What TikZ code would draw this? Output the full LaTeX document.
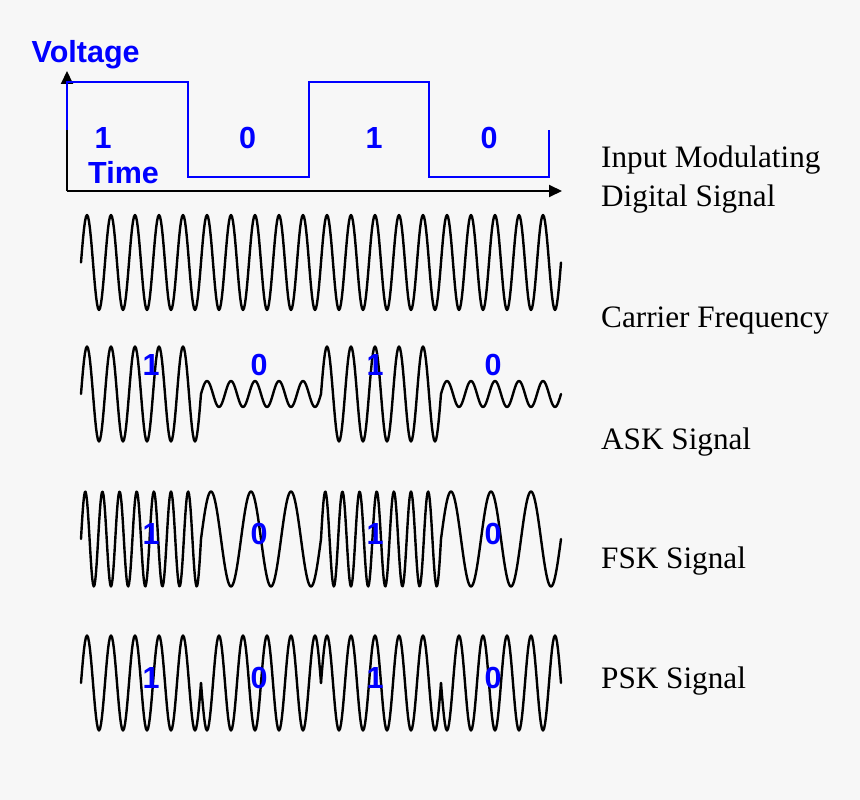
\documentclass[tikz,border=0pt]{standalone}
\usepackage{fontspec}
\setmainfont{Liberation Serif}
\setsansfont{Liberation Sans}
\usepackage{tikz}
\usetikzlibrary{arrows.meta}

\definecolor{paper}{RGB}{247,247,247}
\definecolor{bitblue}{RGB}{0,0,255}
\newcommand{\bitfont}{\fontsize{30.5}{36}\selectfont\sffamily\bfseries}
\newcommand{\capfont}{\fontsize{31.2}{39.4}\selectfont\rmfamily}

\begin{document}
\begin{tikzpicture}[x=1pt, y=-1pt, wave/.style={line width=2.4pt, line join=round, line cap=round}, level/.style={line width=2pt, bitblue}, axis/.style={line width=2pt, -{Triangle[length=13pt, width=12pt]}}, bit/.style={font=\bitfont, text=bitblue, anchor=base, inner sep=0pt}, caption/.style={font=\capfont, anchor=base west, inner sep=0pt, align=left}]
\fill [paper] (0,0) rectangle (860,800);
\useasboundingbox (0,0) rectangle (860,800);
% input digital signal
\coordinate (origin) at (67,191);
\coordinate (vtop) at (67,71);
\coordinate (tend) at (562,191);
\draw [axis] (origin) -- (vtop);
\draw [axis] (origin) -- (tend);
\draw [level] (67,130) -- (67,82) -- (188,82) -- (188,177) -- (308.5,177) -- (308.5,82) -- (429,82) -- (429,177) -- (548.5,177) -- (548.5,130);
\node [bit, anchor=base west] (voltage) at (31.5,63) {Voltage};
\node [bit, anchor=base west] (time) at (88,183) {Time};
\node [bit] (in1) at (103,148) {1};
\node [bit] (in2) at (247.5,148) {0};
\node [bit] (in3) at (374,148) {1};
\node [bit] (in4) at (489,148) {0};
% carrier
\draw [wave] plot [domain=81:561, samples=481] (\x, {262.5-47.5*sin(15*(\x-81))});
% ASK
\draw [wave] plot [domain=81:201, samples=121] (\x, {394-47.5*sin(15*(\x-81))});
\draw [wave] plot [domain=201:321, samples=121] (\x, {394-13*sin(15*(\x-201))});
\draw [wave] plot [domain=321:441, samples=121] (\x, {394-47.5*sin(15*(\x-321))});
\draw [wave] plot [domain=441:561, samples=121] (\x, {394-13*sin(15*(\x-441))});
% FSK
\draw [wave] plot [domain=81:201, samples=161] (\x, {539-47.5*sin(21*(\x-81))});
\draw [wave] plot [domain=201:321, samples=121] (\x, {539-47.5*sin(9*(\x-201))});
\draw [wave] plot [domain=321:441, samples=161] (\x, {539-47.5*sin(21*(\x-321))});
\draw [wave] plot [domain=441:561, samples=121] (\x, {539-47.5*sin(9*(\x-441))});
% PSK
\draw [wave] plot [domain=81:201, samples=121] (\x, {683-47.5*sin(15*(\x-81))});
\draw [wave] plot [domain=201:321, samples=121] (\x, {683+47.5*sin(15*(\x-201))});
\draw [wave] plot [domain=321:441, samples=121] (\x, {683-47.5*sin(15*(\x-321))});
\draw [wave] plot [domain=441:561, samples=121] (\x, {683+47.5*sin(15*(\x-441))});
% bits on the modulated signals
\node [bit] (ask1) at (151,375) {1};
\node [bit] (ask2) at (259,375) {0};
\node [bit] (ask3) at (375,375) {1};
\node [bit] (ask4) at (493,375) {0};
\node [bit] (fsk1) at (151,544) {1};
\node [bit] (fsk2) at (259,544) {0};
\node [bit] (fsk3) at (375,544) {1};
\node [bit] (fsk4) at (493,544) {0};
\node [bit] (psk1) at (151,688) {1};
\node [bit] (psk2) at (259,688) {0};
\node [bit] (psk3) at (375,688) {1};
\node [bit] (psk4) at (493,688) {0};
% captions
\node [caption] (capin) at (601,206.7) {Input Modulating\\Digital Signal};
\node [caption] (capcarrier) at (601,327.3) {Carrier Frequency};
\node [caption] (capask) at (601,449) {ASK Signal};
\node [caption] (capfsk) at (601,568.3) {FSK Signal};
\node [caption] (cappsk) at (601,688.3) {PSK Signal};
\end{tikzpicture}
\end{document}
